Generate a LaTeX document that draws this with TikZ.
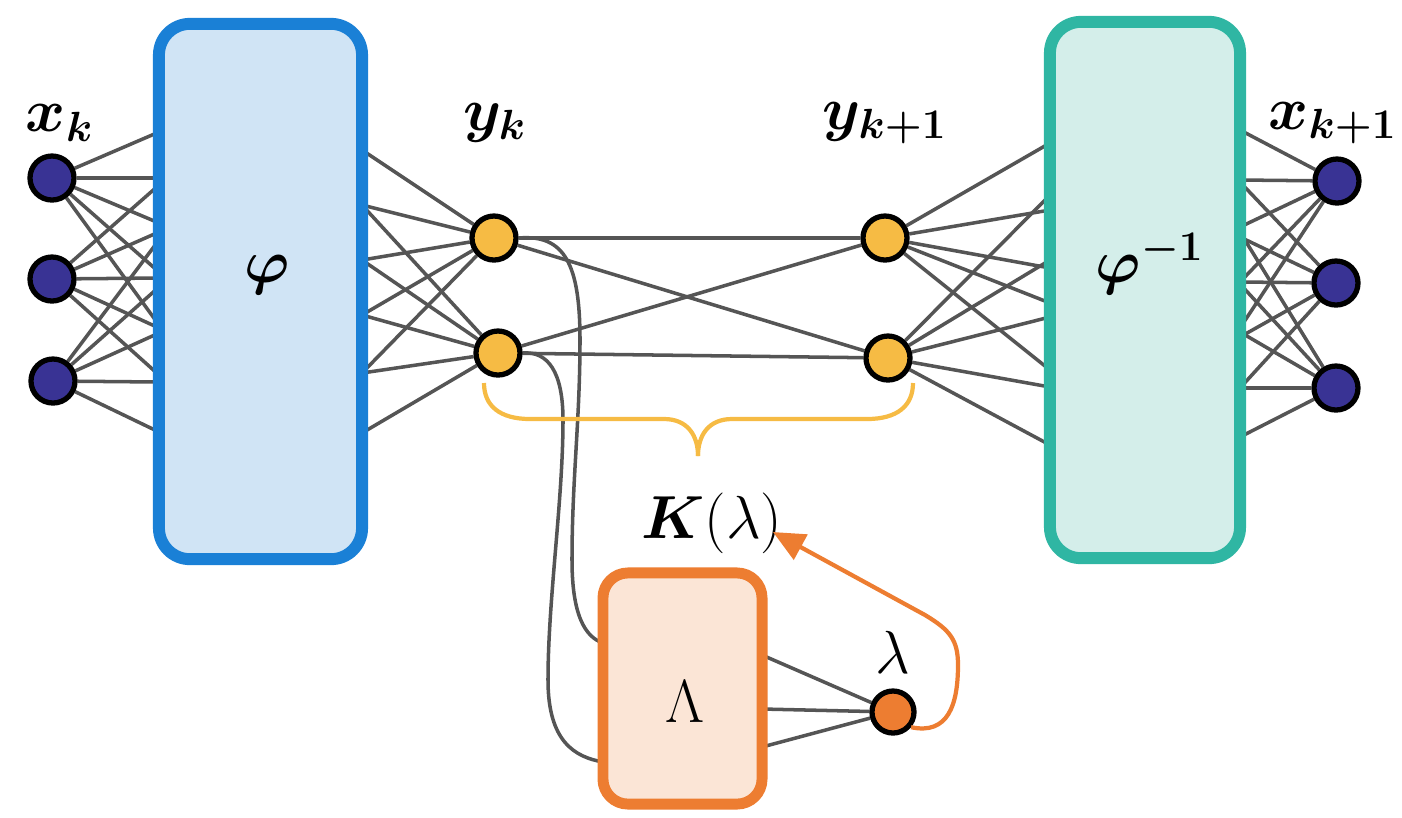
\documentclass[tikz,border=0pt]{standalone}
\usepackage{amsmath,bm}
\usetikzlibrary{arrows.meta}
\definecolor{xblue}{RGB}{57,51,148}
\definecolor{ynode}{RGB}{246,187,68}
\definecolor{lorange}{RGB}{237,125,49}
\definecolor{lfill}{RGB}{251,229,214}
\definecolor{pblue}{RGB}{26,128,214}
\definecolor{pfill}{RGB}{208,228,245}
\definecolor{tealb}{RGB}{47,182,163}
\definecolor{tfill}{RGB}{212,238,234}
\definecolor{wirec}{RGB}{85,85,85}
\pgfdeclarelayer{bg}
\pgfsetlayers{bg,main}
\begin{document}
\begin{tikzpicture}[x=0.01cm,y=-0.01cm,
  wire/.style={draw=wirec, line width=1pt},
  circ/.style={circle, draw=black, line width=1.5pt, minimum size=0.44cm, inner sep=0pt},
  xnode/.style={circ, fill=xblue},
  ynd/.style={circ, fill=ynode},
  lnode/.style={circ, fill=lorange, minimum size=0.42cm},
  bigbox/.style={rectangle, rounded corners=0.31cm, line width=3.4pt, inner sep=0pt},
  biglabel/.style={font=\fontsize{18}{20}\selectfont, inner sep=0pt},
  smalllabel/.style={font=\fontsize{16}{18}\selectfont, inner sep=0pt},
  bracestyle/.style={draw=ynode, line width=1.2pt},
  feedback/.style={draw=lorange, line width=1.2pt, -{Triangle[length=9pt,width=8pt]}}]
\useasboundingbox (0,0) rectangle (1402,817);

% boxes
\node[bigbox, draw=pblue, fill=pfill, minimum width=2.03cm, minimum height=5.35cm] (phi) at (260.5,291.5) {};
\node[bigbox, draw=tealb, fill=tfill, minimum width=1.90cm, minimum height=5.36cm] (psi) at (1145,290) {};
\node[bigbox, draw=lorange, fill=lfill, rounded corners=0.25cm, line width=3.1pt, minimum width=1.59cm, minimum height=2.31cm] (Lbox) at (682.5,688.5) {};

% circles
\node[xnode] (x1) at (52,178) {};
\node[xnode] (x2) at (52,279) {};
\node[xnode] (x3) at (53,381) {};
\node[ynd] (yk1) at (494,238) {};
\node[ynd] (yk2) at (498,353) {};
\node[ynd] (yp1) at (885,238) {};
\node[ynd] (yp2) at (888,358) {};
\node[xnode] (xp1) at (1337,181) {};
\node[xnode] (xp2) at (1336,283) {};
\node[xnode] (xp3) at (1336,388) {};
\node[lnode] (lam) at (893,712) {};

% labels
\node[biglabel] (lxk) at (60,123) {$\bm{x_k}$};
\node[biglabel] (lyk) at (495,123) {$\bm{y_k}$};
\node[biglabel] (lyp) at (885,123) {$\bm{y_{k+1}}$};
\node[biglabel, anchor=east] (lxp) at (1398,123) {$\bm{x_{k+1}}$};
\node[biglabel] (lphi) at (267,275) {$\bm{\varphi}$};
\node[biglabel] (lpsi) at (1150,264) {$\bm{\varphi^{-1}}$};
\node[smalllabel] (lK) at (712,523) {$\bm{K}(\lambda)$};
\node[smalllabel] (llam) at (893,652) {$\lambda$};
\node[smalllabel] (lLam) at (685,702) {$\Lambda$};

\coordinate (lc1) at (603,643);
\coordinate (lc2) at (603,762);
\coordinate (ktip) at (773,532);
\coordinate (kbend) at (925,615);

\begin{pgfonlayer}{bg}
  % x_k to phi
  \foreach \n/\ys in {x1/{132,178,223,272,325}, x2/{185,232,278,328,375}, x3/{240,287,333,382,432}} {
    \foreach \y in \ys {
      \coordinate (\n-e\y) at (159,\y);
      \draw[wire] (\n) -- (\n-e\y);
    }
  }
  % phi to y_k
  \foreach \n/\ys in {yk1/{150,205,260,315,373}, yk2/{205,260,315,373,433}} {
    \foreach \y in \ys {
      \coordinate (\n-e\y) at (362,\y);
      \draw[wire] (\n) -- (\n-e\y);
    }
  }
  % y_{k+1} to psi
  \foreach \n/\ys in {yp1/{143,210,268,303,370}, yp2/{195,260,317,387,445}} {
    \foreach \y in \ys {
      \coordinate (\n-e\y) at (1050,\y);
      \draw[wire] (\n) -- (\n-e\y);
    }
  }
  % psi to x_{k+1}
  \foreach \n/\ys in {xp1/{130,180,227,282,328}, xp2/{182,237,282,337,388}, xp3/{232,284,332,388,437}} {
    \foreach \y in \ys {
      \coordinate (\n-e\y) at (1240,\y);
      \draw[wire] (\n) -- (\n-e\y);
    }
  }
  % middle
  \draw[wire] (yk1) -- (yp1);
  \draw[wire] (yk1) -- (yp2);
  \draw[wire] (yk2) -- (yp1);
  \draw[wire] (yk2) -- (yp2);
  % curves to Lambda
  \draw[wire] (yk1.east) .. controls (565,234) and (580,265) .. (580,340)
     .. controls (580,420) and (572,480) .. (572,560)
     .. controls (572,615) and (585,637) .. (lc1);
  \draw[wire] (yk2.east) .. controls (548,351) and (563,372) .. (563,420)
     .. controls (563,500) and (548,600) .. (548,680)
     .. controls (548,742) and (575,757) .. (lc2);
  % Lambda to lambda
  \foreach \y in {655,709,747} {
    \coordinate (Lr\y) at (762,\y);
    \draw[wire] (Lr\y) -- (lam);
  }
\end{pgfonlayer}

% brace
\draw[bracestyle] (484,383) .. controls (484,406) and (500,419) .. (530,419) -- (664,419)
   .. controls (688,419) and (698,436) .. (698,456);
\draw[bracestyle] (913,383) .. controls (913,406) and (897,419) .. (867,419) -- (732,419)
   .. controls (708,419) and (698,436) .. (698,456);

% feedback arrow
\draw[feedback] (lam.-40) .. controls (948,735) and (958,705) .. (958,665)
   .. controls (958,640) and (950,630) .. (kbend) -- (ktip);
\end{tikzpicture}
\end{document}
